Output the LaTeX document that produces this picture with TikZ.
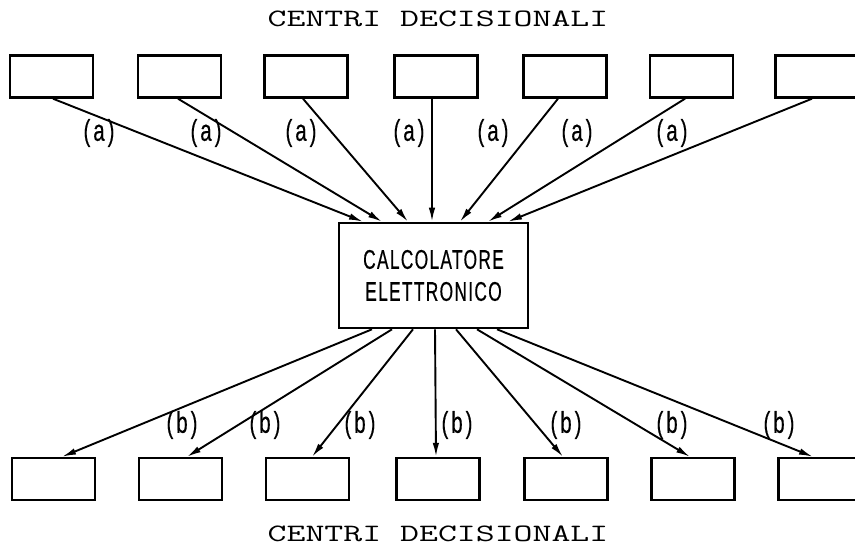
\documentclass[tikz,border=0pt]{standalone}
\usepackage{fontspec}
\usepackage{graphicx}
\usetikzlibrary{arrows.meta}
\newfontfamily\lblfont{Liberation Sans}[FakeStretch=0.68,FakeBold=0.35,LetterSpace=10]
\newfontfamily\calcfont{Liberation Sans}[FakeStretch=0.64,FakeBold=0.5,LetterSpace=5]
\tikzset{
  cbox/.style={draw, line width=2.4pt, minimum width=83pt, minimum height=42pt, inner sep=0pt},
  calc/.style={draw, line width=2.6pt, minimum width=189pt, minimum height=105pt, inner sep=0pt, align=center, font=\calcfont\fontsize{27}{32}\selectfont},
  conn/.style={line width=1.9pt, -{Latex[length=14pt,width=6.5pt]}},
  lbl/.style={font=\lblfont\fontsize{30}{32}\selectfont, inner sep=0pt},
  ttl/.style={font=\ttfamily\fontsize{25}{27}\selectfont, inner sep=0pt}
}
\begin{document}
\begin{tikzpicture}[x=1pt,y=-1pt]
\useasboundingbox (0,0) rectangle (855,549);
\clip (0,0) rectangle (855,549);
\node[ttl] (tt) at (438,19) {\scalebox{1.47}[1]{CENTRI DECISIONALI}};
\node[ttl] (bt) at (438,534) {\scalebox{1.47}[1]{CENTRI DECISIONALI}};
% top boxes
\node[cbox] (t1) at (51.5,76.5) {};
\node[cbox] (t2) at (179.5,76.5) {};
\node[cbox] (t3) at (306,76.5) {};
\node[cbox] (t4) at (436,76.5) {};
\node[cbox] (t5) at (565,76.5) {};
\node[cbox] (t6) at (691.5,76.5) {};
\node[cbox] (t7) at (817,76.5) {};
% bottom boxes
\node[cbox] (b1) at (53.5,479) {};
\node[cbox] (b2) at (180.5,479) {};
\node[cbox] (b3) at (307.5,479) {};
\node[cbox] (b4) at (438,479) {};
\node[cbox] (b5) at (566,479) {};
\node[cbox] (b6) at (693,479) {};
\node[cbox] (b7) at (820,479) {};
% center
\node[calc] (C) at (433.5,275.5) {CALCOLATORE\\ELETTRONICO};
% top arrows
\draw[conn] ([xshift=1.5pt]t1.south) -- ([xshift=-70.5pt]C.north);
\draw[conn] ([xshift=-1.5pt]t2.south) -- ([xshift=-51.5pt]C.north);
\draw[conn] ([xshift=-3pt]t3.south) -- ([xshift=-25.5pt]C.north);
\draw[conn] ([xshift=-4pt]t4.south) -- ([xshift=-1.5pt]C.north);
\draw[conn] ([xshift=-7pt]t5.south) -- ([xshift=26.5pt]C.north);
\draw[conn] ([xshift=-6.5pt]t6.south) -- ([xshift=54.5pt]C.north);
\draw[conn] ([xshift=-5pt]t7.south) -- ([xshift=74.5pt]C.north);
% bottom arrows
\draw[conn] ([xshift=-61.5pt]C.south) -- ([xshift=8.5pt]b1.north);
\draw[conn] ([xshift=-41.5pt]C.south) -- ([xshift=6.5pt]b2.north);
\draw[conn] ([xshift=-20.5pt]C.south) -- ([xshift=4.5pt]b3.north);
\draw[conn] ([xshift=1.5pt]C.south) -- ([xshift=-2pt]b4.north);
\draw[conn] ([xshift=22.5pt]C.south) -- ([xshift=-3pt]b5.north);
\draw[conn] ([xshift=43.5pt]C.south) -- ([xshift=-3pt]b6.north);
\draw[conn] ([xshift=63.5pt]C.south) -- ([xshift=-7pt]b7.north);
% labels
\node[lbl] (la1) at (99,133) {(a)};
\node[lbl] (la2) at (206,133) {(a)};
\node[lbl] (la3) at (301,133) {(a)};
\node[lbl] (la4) at (409,133) {(a)};
\node[lbl] (la5) at (493,133) {(a)};
\node[lbl] (la6) at (577,133) {(a)};
\node[lbl] (la7) at (672,133) {(a)};
\node[lbl] (lb1) at (182,425) {(b)};
\node[lbl] (lb2) at (265,425) {(b)};
\node[lbl] (lb3) at (360,425) {(b)};
\node[lbl] (lb4) at (457,425) {(b)};
\node[lbl] (lb5) at (566,425) {(b)};
\node[lbl] (lb6) at (672,425) {(b)};
\node[lbl] (lb7) at (779,425) {(b)};
\end{tikzpicture}
\end{document}
